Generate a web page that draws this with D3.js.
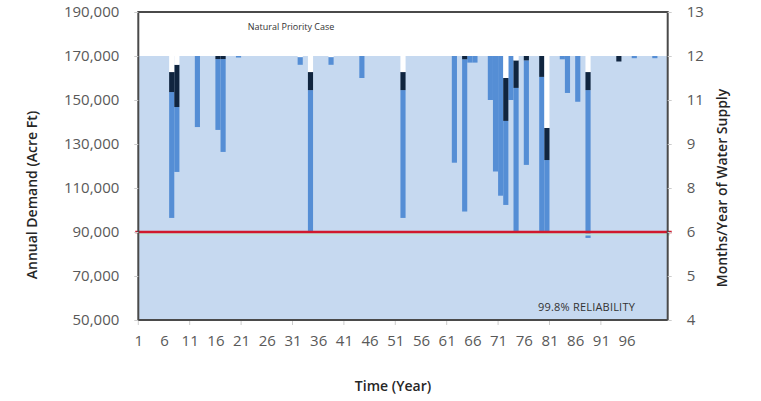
<!DOCTYPE html>
<html>
<head>
<meta charset="utf-8">
<script src="https://cdn.jsdelivr.net/npm/d3@7"></script>
<style>
  body { margin: 0; background: #fff; }
  text { font-family: "Open Sans", Lato, sans-serif; }
</style>
</head>
<body>
<div id="chart"></div>
<script>
// years where supply falls short of the full 12 months
const shortYears = [7, 8, 12, 16, 17, 20, 32, 34, 38, 44, 52, 62, 64, 65, 66, 69, 70, 71, 72, 73, 74, 76, 79, 80, 83, 84, 86, 88, 94, 97, 101];
// demand level where white gap ends (top of supplied part)
const gapTo   = [162700, 166000, 170000, 170000, 170000, 170000, 169500, 162700, 169500, 170000, 162700, 170000, 170000, 170000, 170000, 170000, 170000, 170000, 160000, 170000, 168000, 170000, 170000, 137300, 170000, 170000, 170000, 162700, 170000, 170000, 170000];
// bottom of dark (navy) segment
const darkTo  = [153600, 146800, 170000, 168600, 168600, 170000, 169500, 154500, 169500, 170000, 154500, 170000, 168500, 170000, 170000, 170000, 170000, 170000, 140500, 170000, 155500, 168000, 160500, 122700, 170000, 170000, 170000, 154500, 167500, 170000, 170000];
// bottom of medium blue segment
const blueTo  = [96400, 117300, 137700, 136400, 126400, 169300, 166000, 90000, 166000, 160000, 96400, 121500, 99300, 167000, 167000, 150000, 117500, 106500, 102300, 150000, 90000, 120500, 90000, 90000, 168500, 153200, 149200, 87300, 167500, 169000, 169000];

const fullSupply = 170000;
const demandLine = 90000;
const leftTicks = [50000, 70000, 90000, 110000, 130000, 150000, 170000, 190000];
const rightTickLabels = ['4', '5', '6', '8', '9', '11', '12', '13'];
const xTickLabels = [1, 6, 11, 16, 21, 26, 31, 36, 41, 46, 51, 56, 61, 66, 71, 76, 81, 86, 91, 96];
const xMinorTicks = [1, 11, 21, 31, 41, 51, 61, 71, 81, 91];

const W = 761, H = 401;
const L = 138.3, R = 667.7, T = 12, B = 320;

const svg = d3.select('#chart').append('svg')
  .attr('width', W).attr('height', H);

const x = d3.scaleLinear().domain([1, 104]).range([L, R]);
const y = d3.scaleLinear().domain([50000, 190000]).range([B, T]);

// full supply background
svg.append('rect')
  .attr('x', L).attr('y', y(fullSupply))
  .attr('width', R - L).attr('height', y(50000) - y(fullSupply))
  .attr('fill', '#c6d9f0');

const bars = shortYears.map((yr, i) => ({yr, gap: gapTo[i], dark: darkTo[i], blue: blueTo[i]}));
const bw = x(2) - x(1);

// medium blue part
svg.append('g').selectAll('rect').data(bars).join('rect')
  .attr('x', d => x(d.yr)).attr('width', bw)
  .attr('y', d => y(d.dark)).attr('height', d => y(d.blue) - y(d.dark))
  .attr('fill', '#558ed5');

// navy part
svg.append('g').selectAll('rect').data(bars).join('rect')
  .attr('x', d => x(d.yr)).attr('width', bw)
  .attr('y', d => y(d.gap)).attr('height', d => y(d.dark) - y(d.gap))
  .attr('fill', '#10253f');

// white gap
svg.append('g').selectAll('rect').data(bars).join('rect')
  .attr('x', d => x(d.yr)).attr('width', bw)
  .attr('y', y(fullSupply)).attr('height', d => y(d.gap) - y(fullSupply))
  .attr('fill', '#ffffff');

// demand line
svg.append('line')
  .attr('x1', L).attr('x2', R + 2)
  .attr('y1', y(demandLine) + 2.5).attr('y2', y(demandLine) + 2.5)
  .attr('stroke', '#bfe4dc').attr('stroke-width', 2);
svg.append('line')
  .attr('x1', L - 3).attr('x2', R + 4)
  .attr('y1', y(demandLine)).attr('y2', y(demandLine))
  .attr('stroke', '#d0192d').attr('stroke-width', 2.5);

// frame
svg.append('rect')
  .attr('x', L).attr('y', T).attr('width', R - L).attr('height', B - T)
  .attr('fill', 'none').attr('stroke', '#4a4a4a').attr('stroke-width', 2);

svg.append('text')
  .attr('x', 291).attr('y', 30)
  .attr('text-anchor', 'middle')
  .attr('font-size', 9).attr('fill', '#333')
  .text('Natural Priority Case');

svg.append('text')
  .attr('x', 635).attr('y', 311)
  .attr('text-anchor', 'end')
  .attr('font-size', 11).attr('fill', '#333')
  .attr('letter-spacing', 0.2)
  .text('99.8% RELIABILITY');

// left axis
const yAxisL = svg.append('g')
  .attr('transform', `translate(${L},0)`)
  .call(d3.axisLeft(y).tickValues(leftTicks).tickFormat(d3.format(',')).tickSize(4).tickPadding(15));
yAxisL.select('.domain').remove();
yAxisL.selectAll('line').attr('stroke', '#ccc');
yAxisL.selectAll('text').attr('font-size', 15).attr('fill', '#595959')
  .attr('font-family', '"Open Sans", sans-serif');

// right axis
const yAxisR = svg.append('g')
  .attr('transform', `translate(${R},0)`)
  .call(d3.axisRight(y).tickValues(leftTicks).tickFormat((d, i) => rightTickLabels[i]).tickSize(4).tickPadding(15));
yAxisR.select('.domain').remove();
yAxisR.selectAll('line').attr('stroke', '#ccc');
yAxisR.selectAll('text').attr('font-size', 15).attr('fill', '#595959')
  .attr('font-family', '"Open Sans", sans-serif');

// bottom axis
const xAxis = svg.append('g')
  .attr('transform', `translate(0,${B})`)
  .call(d3.axisBottom(x).tickValues(xTickLabels).tickFormat(d3.format('d')).tickSize(0).tickPadding(15));
xAxis.select('.domain').remove();
xAxis.selectAll('text').attr('font-size', 15).attr('fill', '#595959')
  .attr('font-family', '"Open Sans", sans-serif');

svg.append('g').selectAll('line').data(xMinorTicks).join('line')
  .attr('x1', d => x(d)).attr('x2', d => x(d))
  .attr('y1', B + 1).attr('y2', B + 5)
  .attr('stroke', '#ccc');

// axis titles
svg.append('text')
  .attr('x', 393).attr('y', 391)
  .attr('text-anchor', 'middle')
  .attr('font-size', 14).attr('font-weight', 600).attr('fill', '#262626')
  .text('Time (Year)');

svg.append('text')
  .attr('transform', 'translate(37,195) rotate(-90)')
  .attr('text-anchor', 'middle')
  .attr('font-size', 14).attr('font-weight', 600).attr('fill', '#262626')
  .text('Annual Demand (Acre Ft)');

svg.append('text')
  .attr('transform', 'translate(727,188) rotate(-90)')
  .attr('text-anchor', 'middle')
  .attr('font-size', 14).attr('font-weight', 600).attr('fill', '#262626')
  .text('Months/Year of Water Supply');
</script>
</body>
</html>
